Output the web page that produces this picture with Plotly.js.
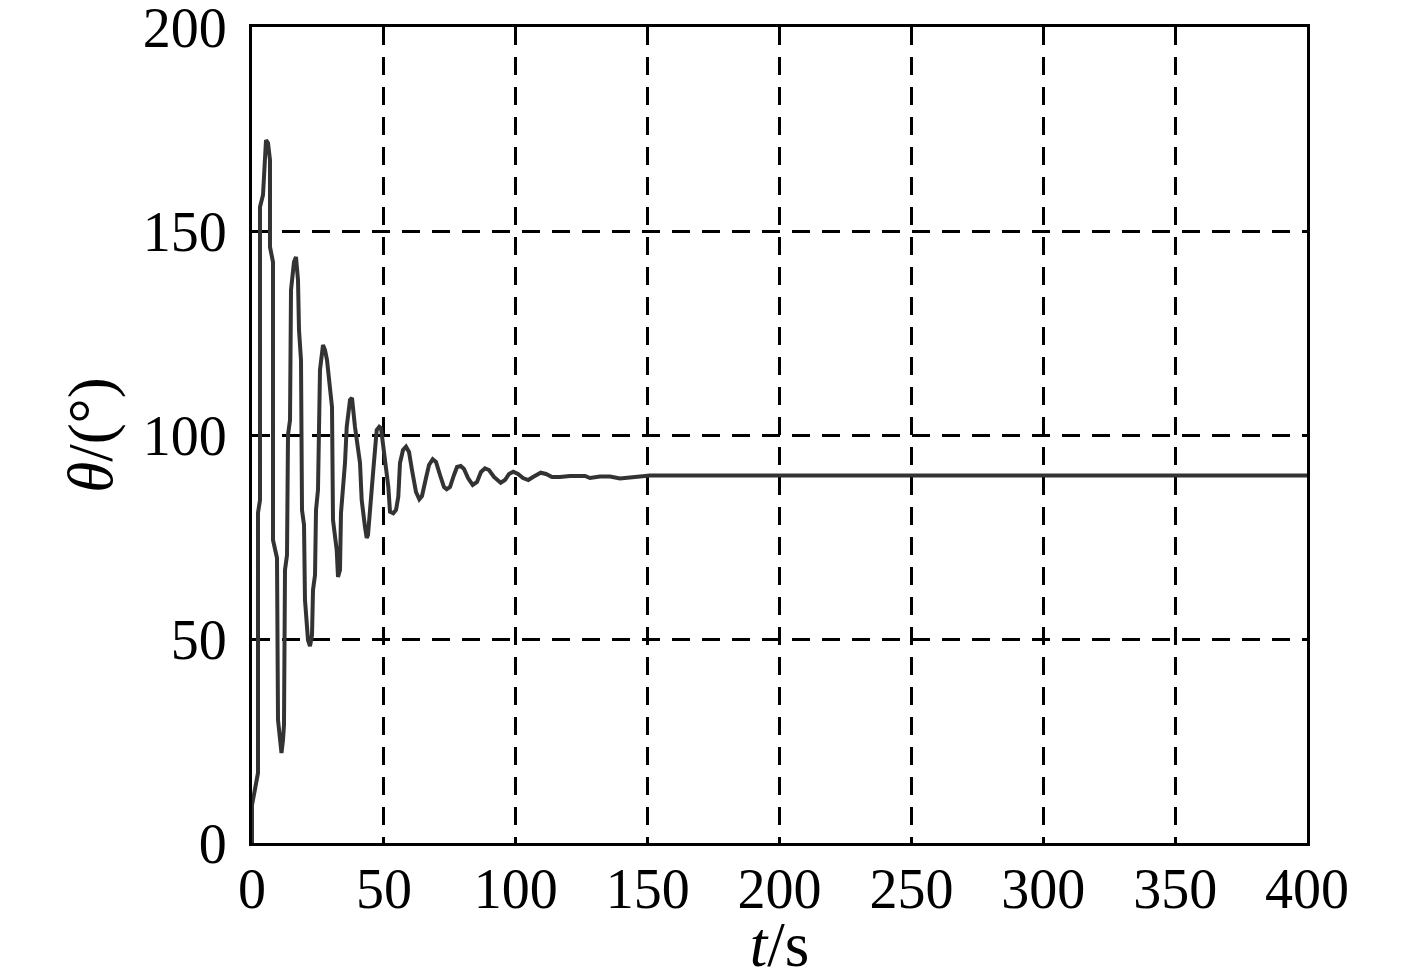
<!DOCTYPE html>
<html><head><meta charset="utf-8">
<script src="https://cdn.plot.ly/plotly-3.0.1.min.js"></script>
<style>body{margin:0;background:#fff}#chart{width:1417px;height:980px}</style>
</head><body><div id="chart"></div>
<script>
const tValues = [0, 0, 2.27, 2.27, 3.03, 3.03, 4.17, 5.31, 6.07, 6.82,
  6.82, 7.96, 7.96, 9.48, 9.86, 10.62, 11.18, 11.75, 12.13, 12.51,
  13.27, 13.65, 14.41, 14.79, 15.92, 16.68, 17.44, 17.82, 18.58, 18.96,
  19.72, 20.09, 21.23, 21.99, 22.75, 23.13, 23.89, 24.27, 25.02, 25.40,
  25.78, 26.92, 27.68, 28.44, 29.57, 30.33, 30.71, 32.11, 32.61, 33.36,
  33.74, 35.26, 35.91, 37.16, 37.91, 39.05, 40.95, 41.59, 42.84, 43.49,
  43.98, 44.74, 45.99, 47.28, 48.26, 48.91, 50.43, 51.68, 52.32, 53.57,
  54.60, 55.47, 56.11, 57.25, 58.39, 59.53, 60.66, 62.18, 63.43, 64.45,
  65.97, 67.11, 68.51, 69.76, 71.28, 72.80, 73.82, 75.07, 76.59, 77.73,
  79.13, 80.38, 81.90, 83.68, 85.31, 86.82, 88.34, 89.86, 91.75, 94.29,
  95.92, 97.44, 99.07, 100.85, 102.75, 104.76, 106.54, 109.46, 111.47, 113.74,
  116.78, 120.57, 126.26, 128.15, 131.94, 135.73, 139.53, 150.90, 400];
const thetaValues = [0, 9.31, 17.16, 80.88, 84.07, 155.88, 158.82, 172.30, 171.57, 167.40,
  146.08, 142.40, 74.26, 69.85, 30.15, 26.47, 22.06, 25.25, 28.92, 66.91,
  70.59, 100.0, 103.68, 135.54, 142.40, 143.63, 137.99, 125.74, 118.38, 81.62,
  77.94, 59.56, 49.75, 48.28, 50.98, 62.01, 65.69, 81.62, 86.52, 101.23,
  115.93, 122.06, 120.83, 118.38, 111.03, 106.86, 79.17, 71.81, 65.20, 66.91,
  80.88, 93.14, 101.96, 108.58, 109.07, 101.96, 93.14, 84.07, 77.45, 74.75,
  75.49, 82.35, 91.42, 101.23, 102.03, 101.72, 93.87, 87.33, 81.20, 80.81,
  81.62, 84.88, 93.14, 96.32, 97.13, 95.83, 91.42, 86.03, 84.24, 85.05,
  89.46, 92.65, 94.04, 93.38, 90.20, 87.25, 86.69, 87.25, 90.20, 92.16,
  92.40, 91.67, 89.46, 87.75, 88.48, 90.93, 91.84, 91.42, 89.71, 88.31,
  88.97, 90.44, 91.00, 90.44, 89.46, 88.97, 89.71, 90.76, 90.44, 89.71,
  89.71, 89.95, 89.95, 89.46, 89.83, 89.83, 89.34, 90.07, 90.07];
const xTicks = [0, 50, 100, 150, 200, 250, 300, 350, 400];
const yTicks = [0, 50, 100, 150, 200];

const family = 'Liberation Serif, Times New Roman, serif';
const tickFont = {family: family, color: '#000', size: 56};
const titleFont = {family: family, color: '#000', size: 63};
const axisCommon = {
  showline: true, linecolor: '#000', linewidth: 3, mirror: true,
  showgrid: true, gridcolor: '#000', gridwidth: 3, griddash: '18px,12px',
  zeroline: false, ticks: '', tickfont: tickFont, fixedrange: true,
  ticklabeloverflow: 'allow'
};
Plotly.newPlot('chart', [{
  x: tValues, y: thetaValues, type: 'scatter', mode: 'lines',
  line: {color: '#333333', width: 4}
}], {
  width: 1417, height: 980,
  margin: {l: 252, r: 110, t: 27, b: 137},
  paper_bgcolor: '#fff', plot_bgcolor: '#fff',
  showlegend: false, font: tickFont,
  xaxis: Object.assign({}, axisCommon, {
    range: [0, 400], tickvals: xTicks, ticktext: xTicks.map(String),
    ticklabelstandoff: -5,
    title: {text: '<i>t</i>/s', font: titleFont, standoff: 30}
  }),
  yaxis: Object.assign({}, axisCommon, {
    range: [0, 200], tickvals: yTicks, ticktext: yTicks.map(String),
    ticklabelstandoff: 11,
    title: {text: '<i>θ</i>/(°)', font: titleFont, standoff: 10}
  })
}, {staticPlot: true});
</script></body></html>
